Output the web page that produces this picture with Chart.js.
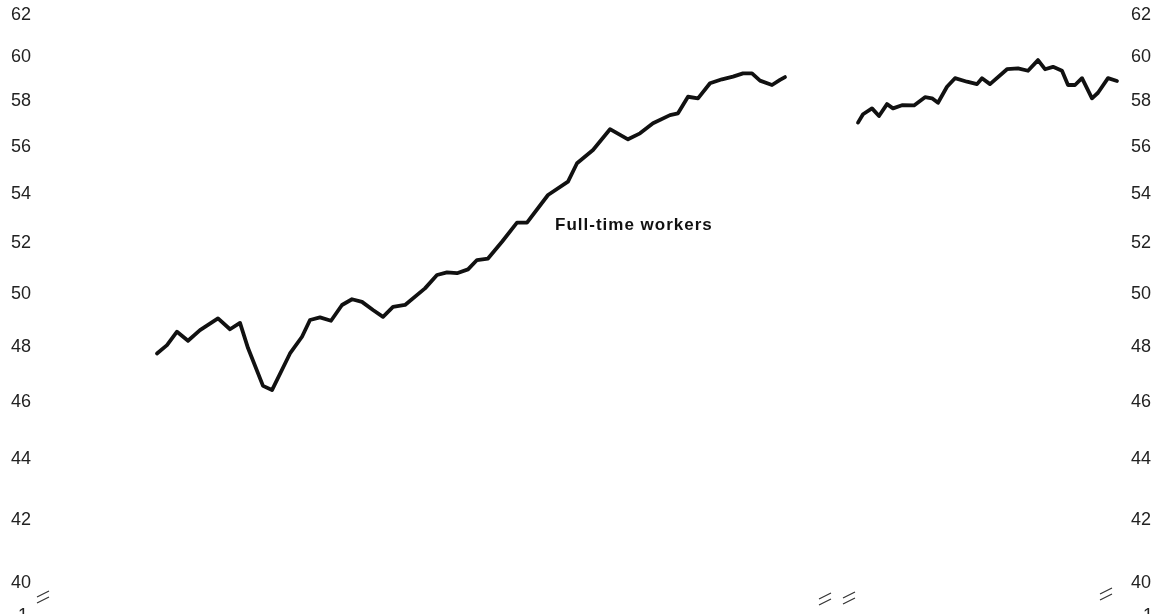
<!DOCTYPE html>
<html>
<head>
<meta charset="utf-8">
<script src="https://cdn.jsdelivr.net/npm/chart.js@4/dist/chart.umd.min.js"></script>
<style>
  html, body { margin: 0; padding: 0; background: #fff; }
  #wrap { width: 1162px; height: 614px; position: relative; }
</style>
</head>
<body>
<div id="wrap"><canvas id="myChart" width="1162" height="614"></canvas></div>
<script>
// data (x = period index, y = percent)

const leftX = [0, 1.0, 2.0, 3.1, 4.3, 6.1, 7.3, 8.3, 9.1, 10.6, 11.5, 13.3, 14.5, 15.3, 16.3, 17.4, 18.5, 19.5, 20.5, 21.6,
  22.6, 23.6, 24.8, 26.8, 28.0, 29.0, 30.0, 31.1, 32.0, 33.1, 34.5, 36.0, 37.0, 39.1, 41.1, 42.0, 43.6, 45.3, 47.1, 48.3,
  49.6, 51.3, 52.1, 53.1, 54.1, 55.3, 56.5, 57.6, 58.6, 59.5, 60.3, 61.5, 62.3, 62.8];
const leftY = [47.75, 48.06, 48.56, 48.22, 48.62, 49.06, 48.65, 48.89, 47.95, 46.57, 46.42, 47.75, 48.37, 49.00, 49.10, 48.97, 49.57, 49.79, 49.69, 49.38,
  49.12, 49.50, 49.57, 50.21, 50.73, 50.83, 50.80, 50.95, 51.32, 51.38, 52.05, 52.82, 52.82, 53.96, 54.52, 55.30, 55.87, 56.77, 56.33, 56.59,
  57.03, 57.39, 57.47, 58.21, 58.14, 58.82, 59.00, 59.12, 59.27, 59.27, 58.94, 58.74, 58.97, 59.10];

const rightX = [70.1, 70.6, 71.5, 72.2, 73.0, 73.6, 74.5, 75.7, 76.8, 77.5, 78.1, 79.0, 79.8, 81.0, 82.0, 82.5, 83.3, 85.0, 86.1, 87.1,
  88.1, 88.8, 89.6, 90.5, 91.1, 91.8, 92.5, 93.5, 94.1, 95.1, 96.0];
const rightY = [57.06, 57.43, 57.69, 57.35, 57.88, 57.69, 57.83, 57.82, 58.19, 58.14, 57.94, 58.66, 59.05, 58.89, 58.78, 59.05, 58.78, 59.46, 59.50, 59.39,
  59.88, 59.46, 59.57, 59.39, 58.74, 58.74, 59.05, 58.14, 58.39, 59.05, 58.92];

const yTicks = [40, 42, 44, 46, 48, 50, 52, 54, 56, 58, 60, 62];
const seriesLabel = 'Full-time workers';

const toPoints = (xs, ys) => xs.map((x, i) => ({ x: x, y: ys[i] }));

const lineStyle = {
  borderColor: '#111',
  borderWidth: 3.8,
  pointRadius: 0,
  tension: 0,
  borderJoinStyle: 'round',
  borderCapStyle: 'round'
};

// y axis labels
const tickFont = { family: '"Liberation Sans", Arial, sans-serif', size: 18 };

function fixedWidth(scale) {
  scale.width = 33;
}

function setTicks(scale) {
  scale.ticks = yTicks.map(v => ({ value: v }));
}

const yAxis = (pos) => ({
  type: 'logarithmic',
  position: pos,
  min: 40,
  max: 62,
  grid: { display: false, drawTicks: false },
  border: { display: false },
  ticks: {
    color: '#222',
    font: tickFont,
    padding: 2,
    autoSkip: false,
    callback: (v) => String(v)
  },
  afterBuildTicks: setTicks,
  afterFit: fixedWidth
});

// texto y marcas de corte
const extras = {
  id: 'extras',
  afterDraw(chart) {
    const c = chart.ctx;
    c.save();
    c.fillStyle = '#111';
    c.font = '600 17px "Liberation Sans", Arial, sans-serif';
    c.letterSpacing = '1px';
    c.textBaseline = 'alphabetic';
    c.fillText(seriesLabel, 555, 230);
    c.letterSpacing = '0px';

    c.font = '18px "Liberation Sans", Arial, sans-serif';
    c.fillStyle = '#222';
    c.fillText('1', 18, 621);
    c.fillText('1', 1143, 621);

    c.strokeStyle = '#333';
    c.lineWidth = 1.2;
    const breaks = [[37, 592], [819, 594], [843, 593], [1100, 589]];
    breaks.forEach(([bx, by]) => {
      c.beginPath();
      c.moveTo(bx, by + 5); c.lineTo(bx + 12, by - 1);
      c.moveTo(bx, by + 11); c.lineTo(bx + 12, by + 5);
      c.stroke();
    });
    c.restore();
  }
};

const ctx = document.getElementById('myChart').getContext('2d');
const myChart = new Chart(ctx, {
  type: 'line',
  data: {
    datasets: [
      { label: seriesLabel, data: toPoints(leftX, leftY), ...lineStyle },
      { label: seriesLabel, data: toPoints(rightX, rightY), ...lineStyle }
    ]
  },
  options: {
    responsive: false,
    animation: false,
    layout: { padding: { top: 15, bottom: 31, left: 0, right: 0 } },
    plugins: { legend: { display: false }, tooltip: { enabled: false } },
    scales: {
      x: { type: 'linear', min: -12.4, max: 97.2, display: false },
      y: yAxis('left'),
      yRight: yAxis('right')
    }
  },
  plugins: [extras]
});
</script>
</body>
</html>
